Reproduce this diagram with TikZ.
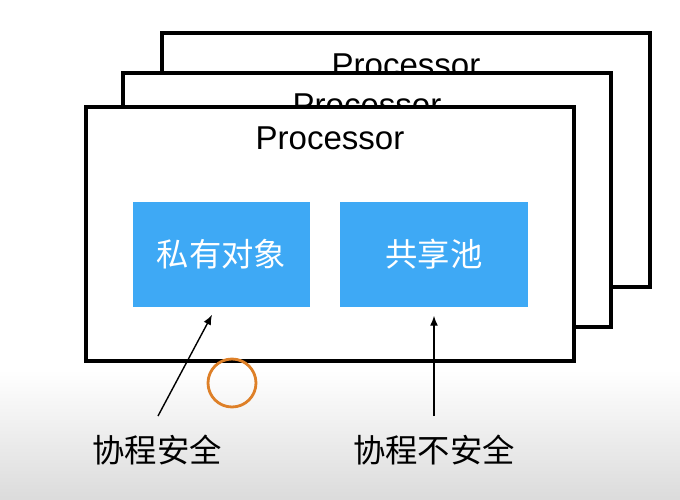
\documentclass[tikz,border=0pt]{standalone}
\usepackage{fontspec}
\setmainfont{Liberation Sans}
\newfontfamily\cjk{Noto Sans CJK SC}
\usetikzlibrary{arrows.meta}
\definecolor{boxblue}{RGB}{62,169,245}
\definecolor{ringorange}{RGB}{222,128,40}
\tikzset{
  proc/.style={draw, line width=2.8pt, fill=white, minimum width=12.175cm, minimum height=6.35cm},
  title/.style={font=\fontsize{23.5}{27}\selectfont},
  obj/.style={fill=boxblue, text=white, minimum height=2.625cm, font=\cjk\fontsize{23}{27}\selectfont},
  note/.style={font=\cjk\fontsize{23}{27}\selectfont},
  ptr/.style={line width=1pt, -{Latex[length=2.5mm,width=2mm]}}
}
\begin{document}
\begin{tikzpicture}[x=0.025cm, y=-0.025cm]
\useasboundingbox (0,0) rectangle (680,500);
\shade[top color=white, bottom color=black!14] (0,370) rectangle (680,500);
\node[proc] (p3) at (406,160) {};
\node[title] (t3) at ([yshift=-0.85cm]p3.north) {Processor};
\node[proc] (p2) at (367,200) {};
\node[title] (t2) at ([yshift=-0.85cm]p2.north) {Processor};
\node[proc] (p1) at (330,234) {};
\node[title] (t1) at ([yshift=-0.82cm]p1.north) {Processor};
\node[obj, minimum width=4.425cm] (own) at (221.5,254.5) {私有对象};
\node[obj, minimum width=4.7cm] (pool) at (434,254.5) {共享池};
\node[note] (safe) at (157,450) {协程安全};
\node[note] (unsafe) at (434,450) {协程不安全};
\coordinate (s1) at (158,416);
\coordinate (s2) at (434,416);
\draw[ptr, shorten >=6pt] (s1) -- (own.south -| 216,0);
\draw[ptr, shorten >=6pt] (s2) -- (pool.south);
\node[circle, draw=ringorange, line width=2pt, minimum size=1.2cm] (ring) at (232,383) {};
\end{tikzpicture}
\end{document}
